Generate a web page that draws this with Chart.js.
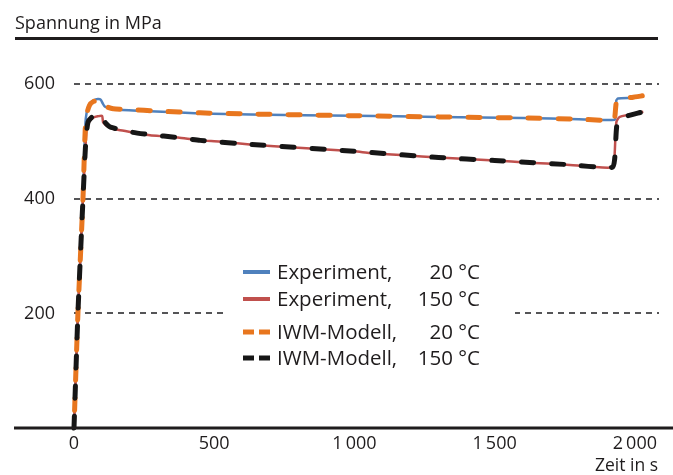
<!DOCTYPE html>
<html>
<head>
<meta charset="utf-8">
<script src="https://cdn.jsdelivr.net/npm/chart.js@4/dist/chart.umd.min.js"></script>
<style>
    html, body { margin: 0; padding: 0; background: #fff; }
    #wrap { width: 673px; height: 475px; }
</style>
</head>
<body>
<div id="wrap"><canvas id="chart"></canvas></div>
<script>
// --- Daten ---
const expTime20   = [0, 14, 32, 38, 42, 50, 60, 70, 85, 95, 103, 110, 150, 270, 450, 630, 1000, 1300, 1600, 1800, 1928, 1931, 1934, 1940, 1985];
const expStress20 = [0, 200, 400, 500, 540, 560, 568, 572, 574, 573, 566, 561, 556, 553, 549, 547, 545, 543, 541, 539, 538, 548, 572, 575, 576];

const expTime150   = [0, 14, 32, 40, 45, 55, 70, 85, 100, 104, 115, 128, 160, 210, 271, 320, 371, 449, 520, 627, 800, 1000, 1055, 1180, 1300, 1500, 1620, 1750, 1922, 1928, 1934, 1946, 2030];
const expStress150 = [0, 200, 400, 480, 520, 535, 542, 544, 545, 533, 528, 524, 520, 516, 511, 509, 507, 502, 500, 495, 489, 483, 480, 476, 472, 467, 463, 460, 455, 480, 534, 543, 552];

const modTime20   = [0, 14, 32, 42, 55, 70, 90, 100, 108, 120, 140, 200, 300, 450, 630, 1000, 1300, 1600, 1800, 1925, 1929, 1934, 1945, 1990, 2030];
const modStress20 = [0, 200, 400, 540, 563, 570, 572, 573, 566, 560, 557, 556, 553, 550, 548, 545, 543, 541, 539, 537, 545, 569, 575, 577, 580];

const modTime150   = [0, 14, 32, 42, 50, 65, 82, 95, 105, 115, 130, 210, 270, 370, 450, 627, 1000, 1300, 1500, 1750, 1920, 1928, 1936, 1950, 2030];
const modStress150 = [0, 200, 400, 500, 534, 543, 546, 545, 538, 531, 525, 516, 512, 507, 502, 495, 483, 472, 467, 460, 455, 470, 530, 541, 552];

const xTicks = [0, 500, 1000, 1500, 2000];
const yTicks = [200, 400, 600];

const seriesNames = ['Experiment,', 'Experiment,', 'IWM-Modell,', 'IWM-Modell,'];
const seriesTemps = ['20 °C', '150 °C', '20 °C', '150 °C'];

const textColor = '#1f1c1d';
const colors = ['#4f81bd', '#c0504d', '#e8761e', '#161616'];

function toPoints(xs, ys) {
    return xs.map((x, i) => ({ x: x, y: ys[i] }));
}

// --- Legende, Achsenlinie und Titel ---
const decorations = {
    id: 'decorations',
    afterDraw(chart) {
        const ctx = chart.ctx;
        const area = chart.chartArea;
        ctx.save();

        // Titel oben links
        ctx.fillStyle = textColor;
        ctx.font = '18px "Open Sans"';
        ctx.textAlign = 'left';
        ctx.textBaseline = 'alphabetic';
        ctx.fillText('Spannung in MPa', 15, 29);
        ctx.fillRect(15, 37, 643, 3);

        // x-Achse
        ctx.fillRect(14, area.bottom - 1.5, 673 - 14, 3);

        // Achsentitel
        ctx.font = '17.5px "Open Sans"';
        ctx.textAlign = 'right';
        ctx.textBaseline = 'middle';
        ctx.fillText('Zeit in s', 658, 466);

        // Legende
        ctx.fillStyle = '#fff';
        ctx.fillRect(228, 255, 287, 115);
        const rows = [272, 299, 332, 358];
        rows.forEach((y, i) => {
            ctx.strokeStyle = colors[i];
            ctx.lineCap = 'butt';
            ctx.beginPath();
            if (i < 2) {
                ctx.lineWidth = 4;
                ctx.moveTo(243, y);
                ctx.lineTo(270, y);
            } else {
                ctx.lineWidth = 5;
                ctx.moveTo(243, y);
                ctx.lineTo(254, y);
                ctx.moveTo(259, y);
                ctx.lineTo(270, y);
            }
            ctx.stroke();
            ctx.fillStyle = textColor;
            ctx.font = '20.5px "Open Sans"';
            ctx.textBaseline = 'middle';
            ctx.textAlign = 'left';
            ctx.fillText(seriesNames[i], 277, y + 1);
            ctx.textAlign = 'right';
            ctx.fillText(seriesTemps[i], 480, y + 1);
        });

        ctx.restore();
    }
};

function initChart() {
    const ctx = document.getElementById('chart').getContext('2d');
    new Chart(ctx, {
        type: 'line',
        data: {
            datasets: [
                {
                    label: 'Experiment, 20 °C',
                    data: toPoints(expTime20, expStress20),
                    borderColor: colors[0],
                    borderWidth: 2.5,
                    order: 4
                },
                {
                    label: 'Experiment, 150 °C',
                    data: toPoints(expTime150, expStress150),
                    borderColor: colors[1],
                    borderWidth: 2.5,
                    order: 3
                },
                {
                    label: 'IWM-Modell, 20 °C',
                    data: toPoints(modTime20, modStress20),
                    borderColor: colors[2],
                    borderWidth: 5,
                    borderDash: [12, 18],
                    borderDashOffset: 12,
                    borderCapStyle: 'round',
                    order: 2
                },
                {
                    label: 'IWM-Modell, 150 °C',
                    data: toPoints(modTime150, modStress150),
                    borderColor: colors[3],
                    borderWidth: 5,
                    borderDash: [12, 18],
                    borderCapStyle: 'round',
                    order: 1
                }
            ]
        },
        options: {
            responsive: false,
            animation: false,
            clip: false,
            layout: { padding: { left: 0, right: 14, top: 55, bottom: 0 } },
            elements: {
                point: { radius: 0 },
                line: { tension: 0.2, fill: false, borderJoinStyle: 'round' }
            },
            plugins: {
                legend: { display: false },
                tooltip: { enabled: false }
            },
            scales: {
                x: {
                    type: 'linear',
                    min: 0,
                    max: 2086,
                    afterBuildTicks: s => { s.ticks = xTicks.map(v => ({ value: v })); },
                    afterFit: s => { s.height = 47; },
                    grid: { display: false, drawTicks: false },
                    border: { display: false },
                    ticks: {
                        padding: 5,
                        color: textColor,
                        font: { family: 'Open Sans', size: 18 },
                        maxRotation: 0,
                        callback: v => v >= 1000 ? String(v).replace(/(\d)(\d{3})$/, '$1\u2009$2') : String(v)
                    }
                },
                y: {
                    min: 0,
                    max: 651,
                    afterBuildTicks: s => { s.ticks = yTicks.map(v => ({ value: v })); },
                    afterFit: s => { s.width = 74; },
                    grid: {
                        drawTicks: false,
                        color: '#555557',
                        lineWidth: 2
                    },
                    border: { display: false, dash: [6, 5] },
                    ticks: {
                        padding: 19,
                        color: textColor,
                        font: { family: 'Open Sans', size: 18 }
                    }
                }
            }
        },
        plugins: [decorations]
    });
}

document.getElementById('chart').width = 673;
document.getElementById('chart').height = 475;
document.addEventListener('DOMContentLoaded', initChart);
</script>
</body>
</html>
